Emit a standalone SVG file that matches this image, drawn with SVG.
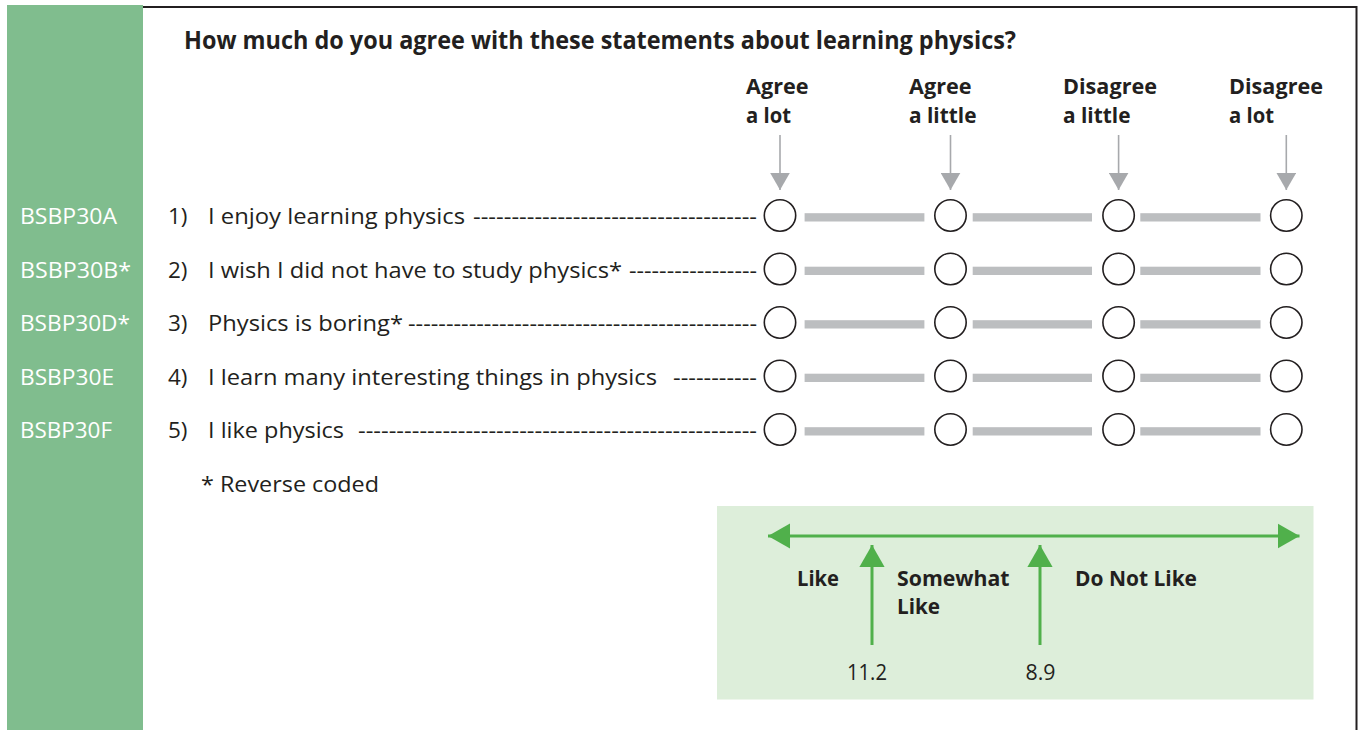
<svg xmlns="http://www.w3.org/2000/svg" width="1361" height="730" viewBox="0 0 1361 730">
<style>
.t{font-family:"Open Sans","Liberation Sans",sans-serif;fill:#231f20}
.r{font-size:22.5px}
.b{font-weight:bold;font-size:21px}
.lbl{font-family:"Open Sans","Liberation Sans",sans-serif;font-size:22.5px;fill:#ffffff}
.opt{fill:#ffffff;stroke:#231f20;stroke-width:1.6}
.bar{fill:#bcbec0}
.garr{stroke:#a7a9ac;stroke-width:1.6;fill:none}
.green{stroke:#50b04b;stroke-width:3;fill:none}
</style>
<defs>
<marker id="gh" markerUnits="userSpaceOnUse" markerWidth="18" markerHeight="20" refX="17" refY="10" orient="auto">
<path d="M0,0.2 L17,10 L0,19.8 z" fill="#a7a9ac"/>
</marker>
<marker id="grn" markerUnits="userSpaceOnUse" markerWidth="23" markerHeight="26" refX="22" refY="12.6" orient="auto-start-reverse">
<path d="M0,0 L22,12.6 L0,25.2 z" fill="#50b04b"/>
</marker>
</defs>

<g id="frame">
<rect x="7" y="5" width="136" height="725" fill="#80bd8e"/>
<path d="M143,7 H1356.5 V730" fill="none" stroke="#231f20" stroke-width="2"/>
</g>

<g id="title">
<text class="t" x="184" y="49" font-weight="bold" font-size="24.5" textLength="832" lengthAdjust="spacingAndGlyphs">How much do you agree with these statements about learning physics?</text>
</g>

<g id="headers">
<g id="h-agree-lot">
<text class="t b" x="746" y="94" textLength="62.5" lengthAdjust="spacingAndGlyphs">Agree</text>
<text class="t b" x="746" y="123" textLength="45" lengthAdjust="spacingAndGlyphs">a lot</text>
</g>
<g id="h-agree-little">
<text class="t b" x="909" y="94" textLength="62.5" lengthAdjust="spacingAndGlyphs">Agree</text>
<text class="t b" x="909" y="123" textLength="67.5" lengthAdjust="spacingAndGlyphs">a little</text>
</g>
<g id="h-disagree-little">
<text class="t b" x="1063" y="94" textLength="94" lengthAdjust="spacingAndGlyphs">Disagree</text>
<text class="t b" x="1063" y="123" textLength="67.5" lengthAdjust="spacingAndGlyphs">a little</text>
</g>
<g id="h-disagree-lot">
<text class="t b" x="1229" y="94" textLength="94" lengthAdjust="spacingAndGlyphs">Disagree</text>
<text class="t b" x="1229" y="123" textLength="45" lengthAdjust="spacingAndGlyphs">a lot</text>
</g>
</g>

<g id="labels">
<text class="lbl" x="20" y="224" textLength="97" lengthAdjust="spacingAndGlyphs">BSBP30A</text>
<text class="lbl" x="20" y="277.5" textLength="111" lengthAdjust="spacingAndGlyphs">BSBP30B*</text>
<text class="lbl" x="20" y="331" textLength="110" lengthAdjust="spacingAndGlyphs">BSBP30D*</text>
<text class="lbl" x="20" y="384.5" textLength="94" lengthAdjust="spacingAndGlyphs">BSBP30E</text>
<text class="lbl" x="20" y="438" textLength="92" lengthAdjust="spacingAndGlyphs">BSBP30F</text>
</g>

<g id="row1">
<text class="t r" x="168" y="224">1)</text>
<text class="t r" x="208" y="224" textLength="257" lengthAdjust="spacingAndGlyphs">I enjoy learning physics</text>
<text class="t r" x="473" y="224" textLength="284" lengthAdjust="spacingAndGlyphs">-------------------------------------</text>
</g>
<g id="row2">
<text class="t r" x="168" y="277.5">2)</text>
<text class="t r" x="208" y="277.5" textLength="414" lengthAdjust="spacingAndGlyphs">I wish I did not have to study physics*</text>
<text class="t r" x="629" y="277.5" textLength="128" lengthAdjust="spacingAndGlyphs">-----------------</text>
</g>
<g id="row3">
<text class="t r" x="168" y="331">3)</text>
<text class="t r" x="208" y="331" textLength="195" lengthAdjust="spacingAndGlyphs">Physics is boring*</text>
<text class="t r" x="408" y="331" textLength="349" lengthAdjust="spacingAndGlyphs">----------------------------------------------</text>
</g>
<g id="row4">
<text class="t r" x="168" y="384.5">4)</text>
<text class="t r" x="208" y="384.5" textLength="449" lengthAdjust="spacingAndGlyphs">I learn many interesting things in physics</text>
<text class="t r" x="673" y="384.5" textLength="84" lengthAdjust="spacingAndGlyphs">-----------</text>
</g>
<g id="row5">
<text class="t r" x="168" y="438">5)</text>
<text class="t r" x="208" y="438" textLength="136" lengthAdjust="spacingAndGlyphs">I like physics</text>
<text class="t r" x="358" y="438" textLength="399" lengthAdjust="spacingAndGlyphs">----------------------------------------------------</text>
</g>

<g id="note">
<text class="t r" x="201" y="491.5" textLength="178" lengthAdjust="spacingAndGlyphs">* Reverse coded</text>
</g>

<g id="scale-bars">
<rect class="bar" x="804.6" y="213.2" width="119.8" height="8.3"/>
<rect class="bar" x="972.7" y="213.2" width="119.3" height="8.3"/>
<rect class="bar" x="1140.3" y="213.2" width="120.2" height="8.3"/>
<rect class="bar" x="804.6" y="266.7" width="119.8" height="8.3"/>
<rect class="bar" x="972.7" y="266.7" width="119.3" height="8.3"/>
<rect class="bar" x="1140.3" y="266.7" width="120.2" height="8.3"/>
<rect class="bar" x="804.6" y="320.2" width="119.8" height="8.3"/>
<rect class="bar" x="972.7" y="320.2" width="119.3" height="8.3"/>
<rect class="bar" x="1140.3" y="320.2" width="120.2" height="8.3"/>
<rect class="bar" x="804.6" y="373.7" width="119.8" height="8.3"/>
<rect class="bar" x="972.7" y="373.7" width="119.3" height="8.3"/>
<rect class="bar" x="1140.3" y="373.7" width="120.2" height="8.3"/>
<rect class="bar" x="804.6" y="427.2" width="119.8" height="8.3"/>
<rect class="bar" x="972.7" y="427.2" width="119.3" height="8.3"/>
<rect class="bar" x="1140.3" y="427.2" width="120.2" height="8.3"/>
</g>

<g id="options">
<circle class="opt" cx="780" cy="215.5" r="15.7"/>
<circle class="opt" cx="950.5" cy="215.5" r="15.7"/>
<circle class="opt" cx="1118.6" cy="215.5" r="15.7"/>
<circle class="opt" cx="1286.3" cy="215.5" r="15.7"/>
<circle class="opt" cx="780" cy="269" r="15.7"/>
<circle class="opt" cx="950.5" cy="269" r="15.7"/>
<circle class="opt" cx="1118.6" cy="269" r="15.7"/>
<circle class="opt" cx="1286.3" cy="269" r="15.7"/>
<circle class="opt" cx="780" cy="322.5" r="15.7"/>
<circle class="opt" cx="950.5" cy="322.5" r="15.7"/>
<circle class="opt" cx="1118.6" cy="322.5" r="15.7"/>
<circle class="opt" cx="1286.3" cy="322.5" r="15.7"/>
<circle class="opt" cx="780" cy="376" r="15.7"/>
<circle class="opt" cx="950.5" cy="376" r="15.7"/>
<circle class="opt" cx="1118.6" cy="376" r="15.7"/>
<circle class="opt" cx="1286.3" cy="376" r="15.7"/>
<circle class="opt" cx="780" cy="429.5" r="15.7"/>
<circle class="opt" cx="950.5" cy="429.5" r="15.7"/>
<circle class="opt" cx="1118.6" cy="429.5" r="15.7"/>
<circle class="opt" cx="1286.3" cy="429.5" r="15.7"/>
</g>

<g id="legend">
<rect x="717" y="506" width="596.5" height="193.5" fill="#ddeeda"/>
<text class="t b" x="797" y="586" textLength="42" lengthAdjust="spacingAndGlyphs">Like</text>
<text class="t b" x="897" y="586" textLength="112.6" lengthAdjust="spacingAndGlyphs">Somewhat</text>
<text class="t b" x="897" y="614" textLength="43" lengthAdjust="spacingAndGlyphs">Like</text>
<text class="t b" x="1075" y="586" textLength="122" lengthAdjust="spacingAndGlyphs">Do Not Like</text>
<text class="t" x="847" y="680" font-size="21" textLength="40" lengthAdjust="spacingAndGlyphs">11.2</text>
<text class="t" x="1025.5" y="680" font-size="21" textLength="30" lengthAdjust="spacingAndGlyphs">8.9</text>
</g>

<g id="connectors">
<line class="garr" x1="780" y1="135" x2="780" y2="190" marker-end="url(#gh)"/>
<line class="garr" x1="950.5" y1="135" x2="950.5" y2="190" marker-end="url(#gh)"/>
<line class="garr" x1="1118.6" y1="135" x2="1118.6" y2="190" marker-end="url(#gh)"/>
<line class="garr" x1="1286.3" y1="135" x2="1286.3" y2="190" marker-end="url(#gh)"/>
<line class="green" x1="768" y1="536" x2="1299.5" y2="536" marker-start="url(#grn)" marker-end="url(#grn)"/>
<line class="green" x1="872" y1="645" x2="872" y2="545" marker-end="url(#grn)"/>
<line class="green" x1="1040" y1="645" x2="1040" y2="545" marker-end="url(#grn)"/>
</g>
</svg>
